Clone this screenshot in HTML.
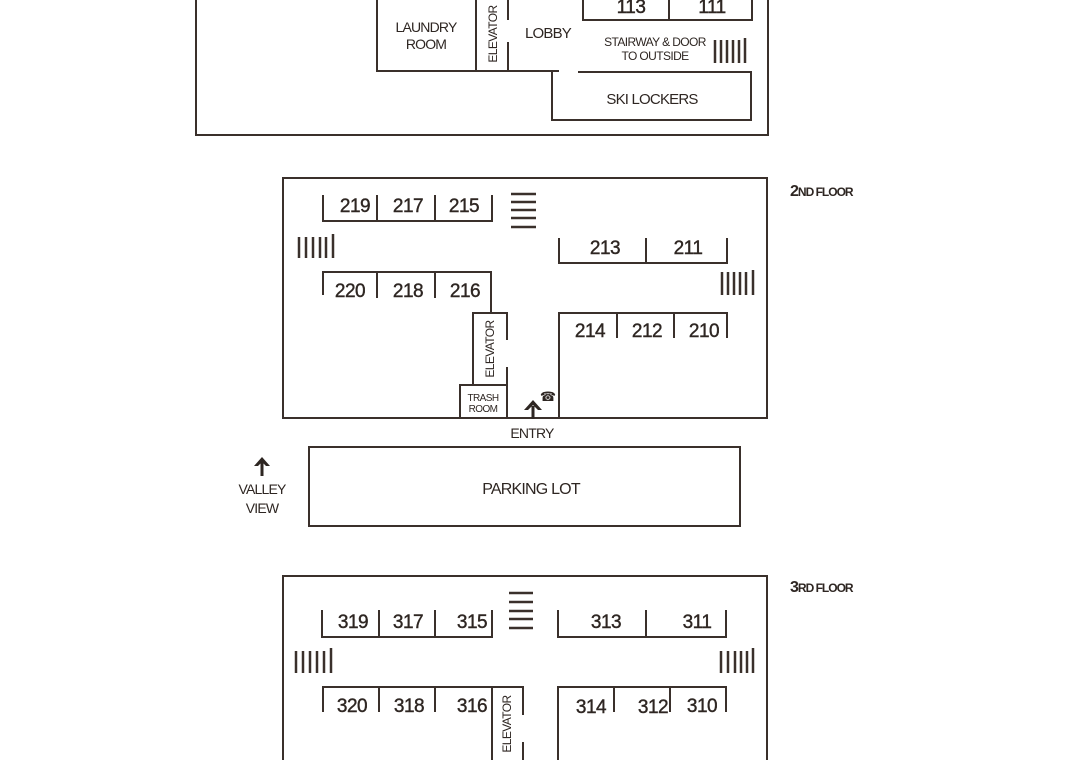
<!DOCTYPE html>
<html><head><meta charset="utf-8"><style>
html,body{margin:0;padding:0;background:#fff;width:1080px;height:760px;overflow:hidden}
svg{display:block}
text{font-family:"Liberation Sans",sans-serif;fill:#2e2622}
.n{font-size:19px;text-anchor:middle;letter-spacing:-0.5px;stroke:#2e2622;stroke-width:0.4}
.s{font-size:14px;text-anchor:middle;letter-spacing:-0.8px}
.t{font-size:11px;text-anchor:middle;letter-spacing:-0.6px}
</style></head><body>
<svg width="1080" height="760" viewBox="0 0 1080 760" xmlns="http://www.w3.org/2000/svg">
<g stroke="#3a302b" stroke-width="2" fill="none">
<polyline points="196,-5 196,135 768,135 768,-5"/>
<polyline points="377,-5 377,71 476,71 476,-5"/>
<line x1="476" y1="71" x2="559" y2="71"/>
<line x1="578" y1="72" x2="752" y2="72"/>
<line x1="508" y1="-5" x2="508" y2="20"/>
<line x1="508" y1="42" x2="508" y2="71"/>
<polyline points="552,72 552,120 751,120 751,72"/>
<polyline points="583,-5 583,20 752,20 752,-5"/>
<line x1="669" y1="-5" x2="669" y2="20"/>
<g stroke-width="2.5">
<line x1="715" y1="40" x2="715" y2="63"/><line x1="721" y1="40" x2="721" y2="63"/><line x1="727" y1="40" x2="727" y2="63"/><line x1="733" y1="40" x2="733" y2="63"/><line x1="739" y1="40" x2="739" y2="63"/><line x1="745" y1="38" x2="745" y2="63"/>
</g>
<rect x="283" y="178" width="484" height="240"/>
<polyline points="323,195 323,221 492,221 492,195"/>
<line x1="377" y1="195" x2="377" y2="221"/><line x1="435" y1="195" x2="435" y2="221"/>
<g stroke-width="2.5">
<line x1="511" y1="194" x2="536" y2="194"/><line x1="511" y1="202" x2="536" y2="202"/><line x1="511" y1="210" x2="536" y2="210"/><line x1="511" y1="218" x2="536" y2="218"/><line x1="511" y1="227" x2="536" y2="227"/>
<line x1="299" y1="237" x2="299" y2="258"/><line x1="306" y1="237" x2="306" y2="258"/><line x1="313" y1="237" x2="313" y2="258"/><line x1="320" y1="237" x2="320" y2="258"/><line x1="326" y1="237" x2="326" y2="258"/><line x1="333" y1="234" x2="333" y2="258"/>
<line x1="722" y1="272" x2="722" y2="295"/><line x1="728" y1="272" x2="728" y2="295"/><line x1="734" y1="272" x2="734" y2="295"/><line x1="740" y1="272" x2="740" y2="295"/><line x1="746" y1="272" x2="746" y2="295"/><line x1="753" y1="270" x2="753" y2="295"/>
</g>
<polyline points="559,238 559,263 727,263 727,238"/>
<line x1="646" y1="238" x2="646" y2="263"/>
<polyline points="323,295 323,272 491,272 491,312"/>
<line x1="377" y1="272" x2="377" y2="298"/><line x1="435" y1="272" x2="435" y2="298"/>
<polyline points="473,385 473,313 507,313 507,340"/>
<line x1="507" y1="367" x2="507" y2="418"/>
<rect x="460" y="385" width="47" height="33"/>
<polyline points="559,418 559,313 727,313 727,338"/>
<line x1="617" y1="313" x2="617" y2="338"/><line x1="674" y1="313" x2="674" y2="338"/>
<rect x="309" y="447" width="431" height="79"/>
<polyline points="283,765 283,576 767,576 767,765"/>
<polyline points="322,610 322,637 492,637 492,610"/>
<line x1="379" y1="610" x2="379" y2="637"/><line x1="435" y1="610" x2="435" y2="637"/>
<polyline points="558,610 558,637 726,637 726,610"/>
<line x1="646" y1="610" x2="646" y2="637"/>
<g stroke-width="2.5">
<line x1="509" y1="593" x2="533" y2="593"/><line x1="509" y1="602" x2="533" y2="602"/><line x1="509" y1="611" x2="533" y2="611"/><line x1="509" y1="619" x2="533" y2="619"/><line x1="509" y1="628" x2="533" y2="628"/>
<line x1="296" y1="651" x2="296" y2="673"/><line x1="303" y1="651" x2="303" y2="673"/><line x1="310" y1="651" x2="310" y2="673"/><line x1="317" y1="651" x2="317" y2="673"/><line x1="324" y1="651" x2="324" y2="673"/><line x1="331" y1="648" x2="331" y2="673"/>
<line x1="721" y1="651" x2="721" y2="673"/><line x1="728" y1="651" x2="728" y2="673"/><line x1="735" y1="651" x2="735" y2="673"/><line x1="741" y1="651" x2="741" y2="673"/><line x1="747" y1="651" x2="747" y2="673"/><line x1="753" y1="648" x2="753" y2="673"/>
</g>
<polyline points="323,712 323,687 523,687 523,715"/>
<line x1="523" y1="742" x2="523" y2="765"/>
<line x1="379" y1="687" x2="379" y2="712"/><line x1="435" y1="687" x2="435" y2="712"/>
<line x1="492" y1="687" x2="492" y2="765"/>
<polyline points="558,765 558,687 726,687 726,712"/>
<line x1="614" y1="687" x2="614" y2="712"/><line x1="670" y1="687" x2="670" y2="712"/>
</g>
<g fill="#2e2622" stroke="#2e2622">
<line x1="533" y1="406" x2="533" y2="419" stroke-width="3"/>
<polygon points="524,410 533,400 542,410 538,410 533,405 528,410" stroke="none"/>
<line x1="262" y1="462" x2="262" y2="476" stroke-width="3"/>
<polygon points="254,466 262,457 270,466 266,466 262,462 258,466" stroke="none"/>
</g>
<text x="548" y="401" style="font-size:13px;text-anchor:middle">☎</text>
<text class="n" x="631" y="13">113</text><text class="n" x="712" y="13">111</text>
<text class="s" x="426" y="32">LAUNDRY</text>
<text class="s" x="426" y="49">ROOM</text>
<text class="t" transform="translate(497,34) rotate(-90)" style="font-size:12px">ELEVATOR</text>
<text class="s" x="548" y="38" style="font-size:15px">LOBBY</text>
<text class="t" x="655" y="46" style="font-size:12px">STAIRWAY &amp; DOOR</text>
<text class="t" x="655" y="60" style="font-size:12px">TO OUTSIDE</text>
<text class="s" x="652" y="104" style="font-size:15px">SKI LOCKERS</text>
<text x="790" y="196" style="font-size:16px;letter-spacing:-1px;font-weight:bold">2<tspan style="font-size:12px">ND FLOOR</tspan></text>
<text class="n" x="355" y="212">219</text><text class="n" x="408" y="212">217</text><text class="n" x="464" y="212">215</text>
<text class="n" x="605" y="254">213</text><text class="n" x="688" y="254">211</text>
<text class="n" x="350" y="297">220</text><text class="n" x="408" y="297">218</text><text class="n" x="465" y="297">216</text>
<text class="n" x="590" y="337">214</text><text class="n" x="647" y="337">212</text><text class="n" x="704" y="337">210</text>
<text class="t" transform="translate(494,349) rotate(-90)" style="font-size:12px">ELEVATOR</text>
<text class="t" x="483" y="401" style="font-size:10px">TRASH</text>
<text class="t" x="483" y="412" style="font-size:10px">ROOM</text>
<text class="s" x="532" y="438">ENTRY</text>
<text class="s" x="531" y="494" style="font-size:16px">PARKING LOT</text>
<text class="s" x="262" y="494">VALLEY</text>
<text class="s" x="262" y="513">VIEW</text>
<text x="790" y="592" style="font-size:16px;letter-spacing:-1px;font-weight:bold">3<tspan style="font-size:12px">RD FLOOR</tspan></text>
<text class="n" x="353" y="628">319</text><text class="n" x="408" y="628">317</text><text class="n" x="472" y="628">315</text>
<text class="n" x="606" y="628">313</text><text class="n" x="697" y="628">311</text>
<text class="n" x="352" y="712">320</text><text class="n" x="409" y="712">318</text><text class="n" x="472" y="712">316</text>
<text class="n" x="591" y="713">314</text><text class="n" x="653" y="713">312</text><text class="n" x="702" y="712">310</text>
<text class="t" transform="translate(511,724) rotate(-90)" style="font-size:12px">ELEVATOR</text>
</svg>
</body></html>
